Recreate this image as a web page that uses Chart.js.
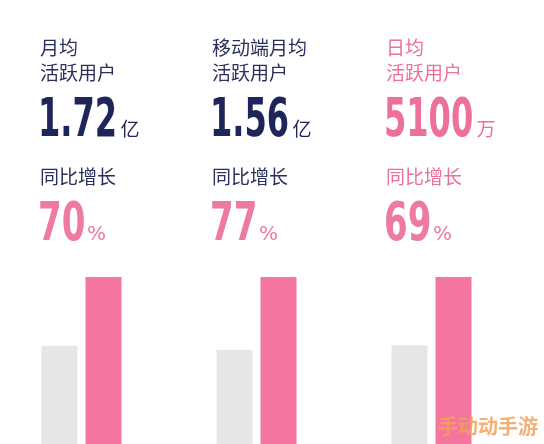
<!DOCTYPE html>
<html><head><meta charset="utf-8">
<script src="https://cdn.jsdelivr.net/npm/chart.js@4"></script>
<style>
body{margin:0;background:#fff;width:544px;height:444px;overflow:hidden;position:relative;font-family:"Noto Sans CJK SC",sans-serif}
#c{position:absolute;left:-6px;top:0}
.t{position:absolute;white-space:nowrap}
.lab{font-size:19px;line-height:24px;color:#2a2f5c}
.big{font-family:"DejaVu Sans Condensed","Liberation Sans Narrow",sans-serif;font-weight:bold;font-size:54px;line-height:58px;color:#1e2558;transform:scaleX(0.66);transform-origin:left}
.unit{font-size:19px;font-weight:normal;font-family:"Noto Sans CJK SC",sans-serif;display:inline-block;transform:scaleX(1.52);transform-origin:left;margin-left:5px}
.pct{font-family:"DejaVu Sans Condensed","Liberation Sans Narrow",sans-serif;font-weight:bold;font-size:54px;line-height:54px;color:#ee7aa3;transform:scaleX(0.7);transform-origin:left}
.pu{font-size:20px;font-weight:normal;font-family:"DejaVu Sans",sans-serif;display:inline-block;transform:scaleX(1.43);transform-origin:left;margin-left:2px}
.pink{color:#ec6f9c}
.wm{position:absolute;right:6px;bottom:4px;font-size:20px;color:#f3a25a;font-weight:bold;opacity:0.85}
</style></head><body>
<canvas id="c" width="525" height="444"></canvas>
<div id="texts"></div>
<div class="wm">手动动手游</div>
<script>
const categories=["月均活跃用户","移动端月均活跃用户","日均活跃用户"];
const lineA=["月均","移动端月均","日均"];
const lineB=["活跃用户","活跃用户","活跃用户"];
const bigValues=["1.72","1.56","5100"];
const units=["亿","亿","万"];
const growth=[70,77,69];
const currentValues=[100,100,100];
const previousValues=[58.8,56.5,59.2];
const textX=[40,212,386];

const T=document.getElementById('texts');
for(let i=0;i<3;i++){
  const pk=i===2?' pink':'';
  T.insertAdjacentHTML('beforeend',
   `<div class="t lab${pk}" style="left:${textX[i]}px;top:35px">${lineA[i]}</div>
    <div class="t lab${pk}" style="left:${textX[i]}px;top:60px">${lineB[i]}</div>
    <div class="t big${pk}" style="left:${textX[i]-2}px;top:89px">${bigValues[i]}<span class="unit">${units[i]}</span></div>
    <div class="t lab${pk}" style="left:${textX[i]}px;top:164px">同比增长</div>
    <div class="t pct" style="left:${textX[i]-2}px;top:195px">${growth[i]}<span class="pu">%</span></div>`);
}
new Chart(document.getElementById('c'),{
 type:'bar',
 data:{labels:categories,datasets:[
  {data:previousValues,backgroundColor:'#e6e6e8'},
  {data:currentValues,backgroundColor:'#f4769f'}]},
 options:{responsive:false,animation:false,maintainAspectRatio:false,
  layout:{padding:0},
  datasets:{bar:{categoryPercentage:0.503,barPercentage:0.818}},
  plugins:{legend:{display:false},tooltip:{enabled:false}},
  scales:{x:{display:false},y:{display:false,min:0,max:266}}}
});
</script>
</body></html>
